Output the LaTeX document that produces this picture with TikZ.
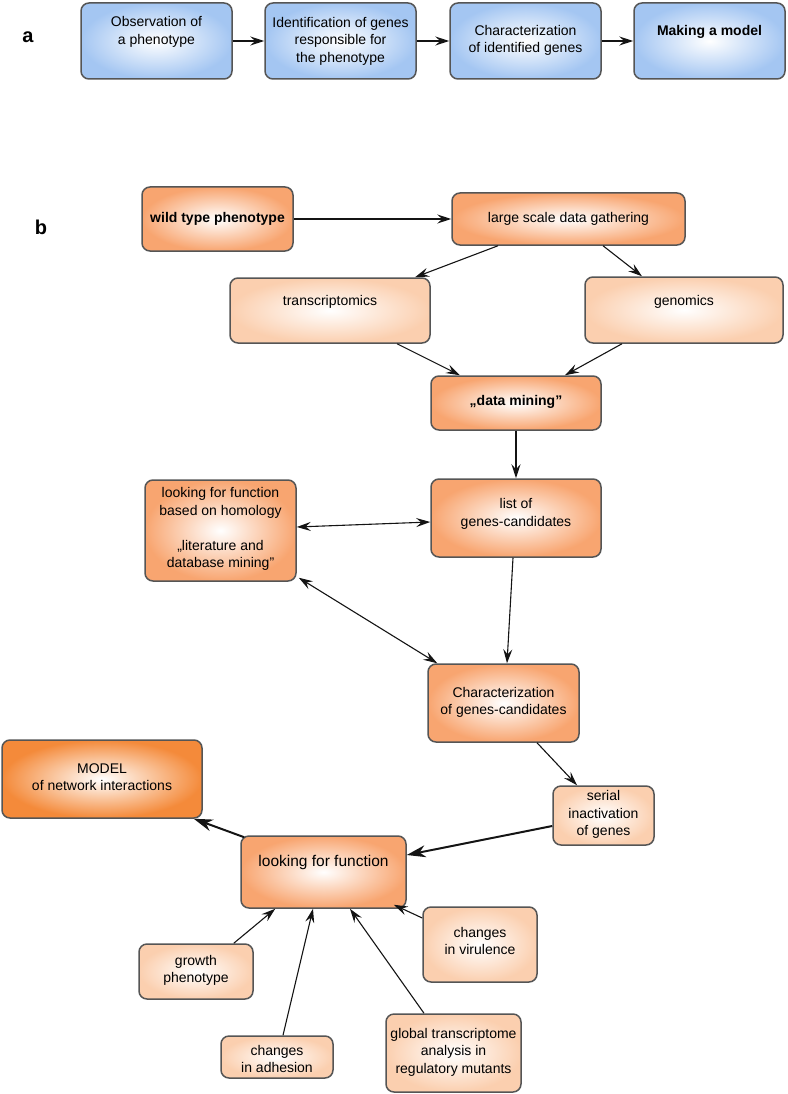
\documentclass[tikz,border=0pt]{standalone}
\usepackage{fontspec}
\setmainfont{Liberation Sans}
\usetikzlibrary{calc,arrows.meta}
\definecolor{bordercol}{RGB}{85,85,85}
\definecolor{blueOut}{RGB}{164,198,242}
\definecolor{orMid}{RGB}{248,165,112}
\definecolor{orLight}{RGB}{251,207,175}
\definecolor{orDark}{RGB}{244,138,58}
\definecolor{linecol}{RGB}{20,20,20}
\tikzset{
  box/.style={draw=bordercol, line width=1.5pt, rounded corners=8pt, inner sep=0pt},
  sz/.style 2 args={minimum width=#1pt, minimum height=#2pt},
  bluebox/.style={box, inner color=white, outer color=blueOut},
  obox/.style={box, inner color=white, outer color=orMid},
  lbox/.style={box, inner color=white, outer color=orLight},
  dbox/.style={box, inner color=white, outer color=orDark},
  txt/.style={align=center, inner sep=0pt, font=\fontsize{14}{17.5}\selectfont},
  btxt/.style={txt, font=\fontsize{14}{17.5}\selectfont\bfseries},
  panel/.style={font=\fontsize{20}{24}\selectfont\bfseries, inner sep=0pt},
  >={Stealth[length=14pt,width=9pt,inset=5pt]},
  arr/.style={->, draw=linecol, line width=1.1pt},
  darr/.style={<->, draw=linecol, line width=1.1pt},
  arrT/.style={-{Stealth[length=19pt,width=12pt,inset=6pt]}, draw=linecol, line width=2pt},
}
\begin{document}
\begin{tikzpicture}[x=1pt,y=-1pt]
\useasboundingbox (0,0) rectangle (787,1094);

% panel labels
\node[panel] (la) at (28,37) {a};
\node[panel] (lb) at (41,227) {b};

% ---- panel a ----
\node[bluebox, sz={151}{76}] (obs) at (156.5,41) {};
\node[txt] (obsT) at ($(obs)+(0,-9)$) {Observation of\\a phenotype};
\node[bluebox, sz={151}{76}] (ident) at (340.5,41) {};
\node[txt] (identT) at ($(ident)+(0,0)$) {Identification of genes\\responsible for\\the phenotype};
\node[bluebox, sz={151}{76}] (charid) at (525.5,41) {};
\node[txt] (charidT) at ($(charid)+(0,-0.5)$) {Characterization\\of identified genes};
\node[bluebox, sz={151}{76}] (model) at (709.5,41) {};
\node[btxt] (modelT) at ($(model)+(0,-9)$) {Making a model};

\draw[arr] (obs.east) -- (ident.west);
\draw[arr] (ident.east) -- (charid.west);
\draw[arr] (charid.east) -- (model.west);

% ---- panel b ----
\node[obox, sz={151}{64}] (wild) at (217.5,219) {};
\node[btxt] (wildT) at (wild) {wild type phenotype};
\node[obox, sz={233}{52}] (lsdg) at (568.5,219) {};
\node[txt] (lsdgT) at (lsdg) {large scale data gathering};
\node[lbox, sz={200}{65}] (trans) at (330,310.5) {};
\node[txt] (transT) at ($(trans)+(0,-8.5)$) {transcriptomics};
\node[lbox, sz={198}{66}] (genom) at (684,310) {};
\node[txt] (genomT) at ($(genom)+(0,-8)$) {genomics};
\node[obox, sz={170}{54}] (dmin) at (516,403) {};
\node[btxt] (dminT) at ($(dmin)+(0,-1.5)$) {„data mining”};
\node[obox, sz={170}{78}] (list) at (516,518) {};
\node[txt] (listT) at ($(list)+(0,-4)$) {list of\\genes-candidates};
\node[obox, sz={151}{101}] (homol) at (220.5,530.5) {};
\node[txt] (homolT) at ($(homol)+(0,-1.5)$) {looking for function\\based on homology\\[17.5pt]„literature and\\database mining”};
\node[obox, sz={151}{78}] (charc) at (503.5,703) {};
\node[txt] (charcT) at ($(charc)+(0,-0.5)$) {Characterization\\of genes-candidates};
\node[lbox, sz={101}{59}] (serial) at (603.5,815.5) {};
\node[txt] (serialT) at ($(serial)+(0,-1)$) {serial\\inactivation\\of genes};
\node[dbox, sz={200}{78}] (netmod) at (102,779) {};
\node[txt] (netmodT) at ($(netmod)+(0,-2)$) {MODEL\\of network interactions};
\node[obox, sz={165}{72}] (lff) at (323.5,872) {};
\node[txt, font=\fontsize{15.5}{19}\selectfont] (lffT) at ($(lff)+(0,-10)$) {looking for function};
\node[lbox, sz={114}{55}] (growth) at (196,971.5) {};
\node[txt] (growthT) at ($(growth)+(0,-1)$) {growth\\phenotype};
\node[lbox, sz={112}{42}] (adh) at (277,1057) {};
\node[txt] (adhT) at ($(adh)+(0,2)$) {changes\\in adhesion};
\node[lbox, sz={135}{78}] (glob) at (453.5,1053) {};
\node[txt] (globT) at ($(glob)+(0,-1)$) {global transcriptome\\analysis in\\regulatory mutants};
\node[lbox, sz={114}{75}] (vir) at (480,944.5) {};
\node[txt] (virT) at ($(vir)+(0,-3.5)$) {changes\\in virulence};

% connectors
\draw[arr] (wild.east) -- (lsdg.west);
\draw[arr] ($(lsdg.south)+(-70.5,0)$) -- ($(trans.north)+(85,0)$);
\draw[arr] ($(lsdg.south)+(34.5,0)$) -- ($(genom.north)+(-42,0)$);
\draw[arr] ($(trans.south)+(67,0)$) -- ($(dmin.north)+(-56,0)$);
\draw[arr] ($(genom.south)+(-62,0)$) -- ($(dmin.north)+(49,0)$);
\draw[arr] (dmin.south) -- (list.north);
\draw[darr] ($(homol.east)+(0,-3.5)$) -- ($(list.west)+(0,4)$);
\draw[arr] ($(list.south)+(-3,0)$) -- ($(charc.north)+(3.5,0)$);
\draw[darr] ($(homol.south east)+(2,-4)$) -- ($(charc.north west)+(10,0)$);
\draw[arr] ($(charc.south)+(33.5,0)$) -- ($(serial.north)+(-26.5,0)$);
\draw[arrT] ($(serial.west)+(0,10.5)$) -- ($(lff.east)+(0,-17)$);
\draw[arrT] ($(lff.north west)+(4,2)$) -- ($(netmod.south east)+(-9,0)$);
\draw[arr] ($(growth.north east)+(-20,0)$) -- ($(lff.south west)+(35,0)$);
\draw[arr] ($(adh.north)+(6,0)$) -- ($(lff.south)+(-10.5,0)$);
\draw[arr] ($(glob.north)+(-29.5,0)$) -- ($(lff.south)+(26.5,0)$);
\draw[arr] ($(vir.west)+(0,-26.5)$) -- ($(lff.south east)+(-13,-4)$);
\end{tikzpicture}
\end{document}
